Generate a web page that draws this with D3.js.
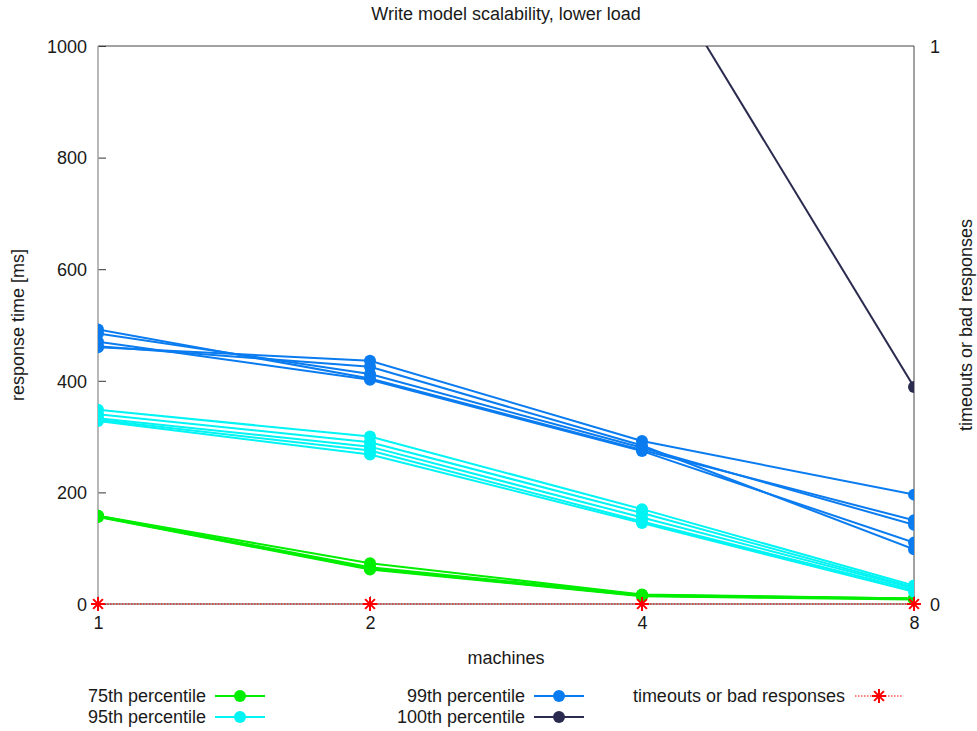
<!doctype html>
<html>
<head>
<meta charset="UTF-8">
<title>Write model scalability</title>
<script src="https://cdn.jsdelivr.net/npm/d3@7"></script>
<style>
  body { margin: 0; background: #fff; }
  text { font-family: "Liberation Sans", Arial, sans-serif; fill: #1a1a1a; }
</style>
</head>
<body>
<svg id="chart" width="977" height="731"></svg>
<script>
// machines on the x axis
var machines = [1, 2, 4, 8];

// one array per run, values in ms
var p75 = [
  [158, 73, 17, 10],
  [158, 66, 16, 10],
  [157, 64, 15, 9],
  [157, 63, 15, 9],
  [156, 62, 14, 8]
];
var p95 = [
  [348, 300, 170, 33],
  [340, 290, 163, 30],
  [333, 282, 155, 28],
  [330, 275, 148, 25],
  [328, 268, 145, 22]
];
var p99 = [
  [492, 404, 276, 150],
  [485, 412, 280, 142],
  [470, 402, 274, 110],
  [460, 436, 292, 196],
  [462, 425, 284, 98]
];
// only the last segment falls inside the plot
var p100 = [
  [null, null, 1190, 389]
];
var timeouts = [0, 0, 0, 0];

var yTicks = [0, 200, 400, 600, 800, 1000];

var series = [
  { name: "75th percentile", color: "#00ee00", runs: p75 },
  { name: "95th percentile", color: "#00f4f4", runs: p95 },
  { name: "99th percentile", color: "#0a7cf0", runs: p99 },
  { name: "100th percentile", color: "#2b2b4f", runs: p100 }
];

var L = 98, R = 914, T = 46, B = 604;
var svg = d3.select("#chart");

var x = d3.scaleLog().base(2).domain([1, 8]).range([L, R]);
var y = d3.scaleLinear().domain([0, 1000]).range([B, T]);
var y2 = d3.scaleLinear().domain([0, 1]).range([B, T]);

svg.append("clipPath").attr("id", "clip")
  .append("rect").attr("x", L).attr("y", T).attr("width", R - L).attr("height", B - T);

// title and axis labels
svg.append("text").attr("x", 506).attr("y", 20).attr("text-anchor", "middle")
  .style("font-size", "18px").text("Write model scalability, lower load");
svg.append("text").attr("transform", "translate(24,325) rotate(-90)").attr("text-anchor", "middle")
  .style("font-size", "18px").text("response time [ms]");
svg.append("text").attr("transform", "translate(972,325) rotate(-90)").attr("text-anchor", "middle")
  .style("font-size", "18px").text("timeouts or bad responses");
svg.append("text").attr("x", 506).attr("y", 664).attr("text-anchor", "middle")
  .style("font-size", "18px").text("machines");

// axes
var yAxis = d3.axisLeft(y).tickValues(yTicks).tickFormat(d3.format("d")).tickSize(-8).tickPadding(11);
var gy = svg.append("g").attr("transform", "translate(" + L + ",0)").call(yAxis);
gy.select(".domain").remove();
gy.selectAll("line").attr("stroke", "#333");
gy.selectAll("text").style("font-size", "18px").attr("dy", "0.35em");

var xAxis = d3.axisBottom(x).tickValues(machines).tickFormat(d3.format("d")).tickSize(-8).tickPadding(12);
var gx = svg.append("g").attr("transform", "translate(0," + B + ")").call(xAxis);
gx.select(".domain").remove();
gx.selectAll("line").attr("stroke", "#999");
gx.selectAll("text").style("font-size", "18px");

var y2Axis = d3.axisRight(y2).tickValues([0, 1]).tickFormat(d3.format("d")).tickSize(0).tickPadding(16);
var gy2 = svg.append("g").attr("transform", "translate(" + R + ",0)").call(y2Axis);
gy2.select(".domain").remove();
gy2.selectAll("text").style("font-size", "18px").attr("dy", "0.35em");

// border
svg.append("path").attr("fill", "none").attr("stroke", "#444").attr("stroke-width", 1)
  .attr("d", "M" + L + "," + T + "H" + R + "V" + B + "H" + L);
svg.append("line").attr("x1", L).attr("x2", L).attr("y1", T).attr("y2", B)
  .attr("stroke", "#a0a0a0").attr("stroke-width", 1.5);

var plot = svg.append("g").attr("clip-path", "url(#clip)");
var line = d3.line()
  .defined(function (d) { return d != null; })
  .x(function (d, i) { return x(machines[i]); })
  .y(function (d) { return y(d); });

series.forEach(function (s) {
  var g = plot.append("g");
  s.runs.forEach(function (run) {
    g.append("path").datum(run).attr("d", line)
      .attr("fill", "none").attr("stroke", s.color).attr("stroke-width", 2);
  });
  s.runs.forEach(function (run) {
    g.selectAll(null).data(run.map(function (v, i) { return { v: v, m: machines[i] }; })
        .filter(function (d) { return d.v != null; }))
      .enter().append("circle")
      .attr("cx", function (d) { return x(d.m); })
      .attr("cy", function (d) { return y(d.v); })
      .attr("r", 6).attr("fill", s.color);
  });
});

// timeouts on right axis
var star = function (sel, cx, cy) {
  var r = 7;
  [[0, 1], [1, 0], [0.7, 0.7], [0.7, -0.7]].forEach(function (a) {
    sel.append("line")
      .attr("x1", cx - a[0] * r).attr("x2", cx + a[0] * r)
      .attr("y1", cy - a[1] * r).attr("y2", cy + a[1] * r)
      .attr("stroke", "#ff0000").attr("stroke-width", 2);
  });
};
var tline = d3.line().x(function (d, i) { return x(machines[i]); }).y(function (d) { return y2(d); });
svg.append("path").datum(timeouts).attr("d", tline).attr("fill", "none")
  .attr("stroke", "#ff0000").attr("stroke-width", 1).attr("stroke-dasharray", "1.5,1.5");
var tg = svg.append("g");
timeouts.forEach(function (v, i) { star(tg, x(machines[i]), y2(v)); });

// legend
var legend = [
  { name: series[0].name, color: series[0].color, tx: 206, ty: 696 },
  { name: series[1].name, color: series[1].color, tx: 206, ty: 717 },
  { name: series[2].name, color: series[2].color, tx: 525, ty: 696 },
  { name: series[3].name, color: series[3].color, tx: 525, ty: 717 }
];
legend.forEach(function (d) {
  svg.append("text").attr("x", d.tx).attr("y", d.ty).attr("dy", "0.35em")
    .attr("text-anchor", "end").style("font-size", "18px").text(d.name);
  svg.append("line").attr("x1", d.tx + 9).attr("x2", d.tx + 59).attr("y1", d.ty).attr("y2", d.ty)
    .attr("stroke", d.color).attr("stroke-width", 2);
  svg.append("circle").attr("cx", d.tx + 34).attr("cy", d.ty).attr("r", 6).attr("fill", d.color);
});
svg.append("text").attr("x", 845).attr("y", 696).attr("dy", "0.35em")
  .attr("text-anchor", "end").style("font-size", "18px").text("timeouts or bad responses");
svg.append("line").attr("x1", 855).attr("x2", 903).attr("y1", 696).attr("y2", 696)
  .attr("stroke", "#ff0000").attr("stroke-width", 1).attr("stroke-dasharray", "1.5,1.5");
star(svg, 879, 696);
</script>
</body>
</html>
